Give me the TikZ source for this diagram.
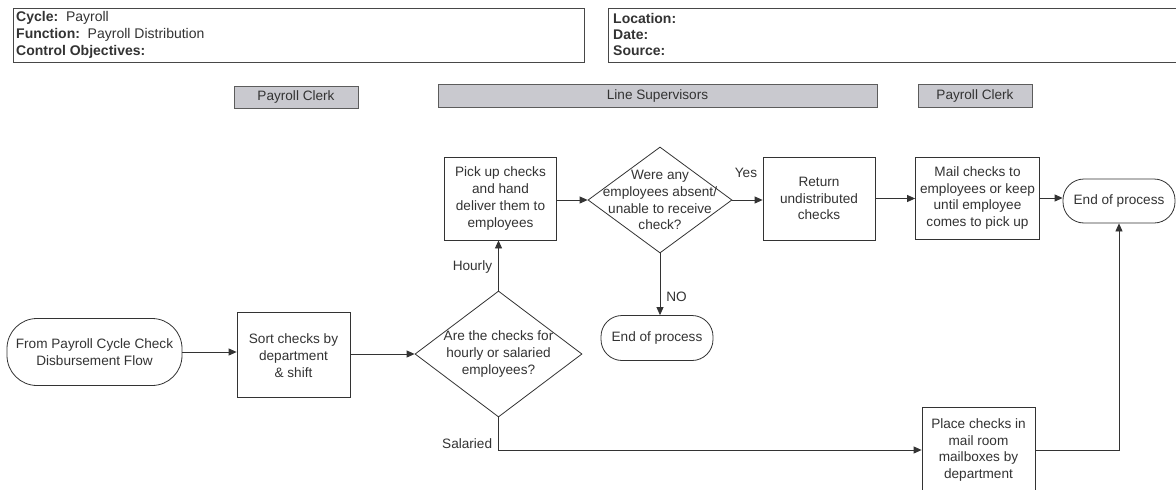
\documentclass[tikz,border=0pt]{standalone}
\usepackage{fontspec}
\setmainfont{Liberation Sans}
\usetikzlibrary{shapes.geometric,arrows.meta}
\definecolor{ink}{HTML}{333333}
\definecolor{lane}{HTML}{C9C9CF}
\tikzset{
  every node/.style={text=ink},
  txt/.style={font=\fontsize{13.6}{16.8}\selectfont, align=center, inner sep=0pt},
  box/.style={draw=ink, line width=0.8pt, rectangle, inner sep=0pt},
  term/.style={draw=ink, line width=0.8pt, rectangle, rounded corners=21pt, inner sep=0pt},
  dia/.style={draw=ink, line width=0.8pt, diamond, inner sep=0pt},
  lanebox/.style={draw=ink!80, line width=0.9pt, fill=lane, inner sep=0pt, font=\fontsize{13.6}{15}\selectfont},
  hdr/.style={draw=ink!90, line width=0.9pt, inner sep=0pt},
  arr/.style={draw=ink, line width=0.8pt, -{Triangle[length=8pt,width=7pt]}},
  lbl/.style={font=\fontsize{13.6}{15}\selectfont, inner sep=0pt},
  hlbl/.style={font=\fontsize{14}{15}\selectfont, inner sep=0pt, anchor=west},
}
\begin{document}
\begin{tikzpicture}[x=1pt,y=-1pt]
\clip (0,0) rectangle (1176,490);
\fill[white] (0,0) rectangle (1176,490);
% header boxes
\node[hdr, minimum width=571pt, minimum height=54pt] (h1) at (298.5,35) {};
\node[hdr, minimum width=580pt, minimum height=54pt] (h2) at (898,35) {};
\node[hlbl] (h1a) at (16,18) {\textbf{Cycle:}\ \ Payroll};
\node[hlbl] (h1b) at (16,35) {\textbf{Function:}\ \ Payroll Distribution};
\node[hlbl] (h1c) at (16,52) {\textbf{Control Objectives:}};
\node[hlbl] (h2a) at (613,18) {\textbf{Location:}};
\node[hlbl] (h2b) at (613,35) {\textbf{Date:}};
\node[hlbl] (h2c) at (613,51) {\textbf{Source:}};
% lane headers
\node[lanebox, minimum width=124pt, minimum height=22pt] (l1) at (296,97) {Payroll Clerk};
\node[lanebox, minimum width=439pt, minimum height=23pt] (l2) at (657.5,96) {Line Supervisors};
\node[lanebox, minimum width=114pt, minimum height=23pt] (l3) at (975,95.5) {Payroll Clerk};
% nodes
\node[term, minimum width=175pt, minimum height=67pt, rounded corners=30pt] (start) at (94.5,352) {};
\node[txt] at (start) {From Payroll Cycle Check\\Disbursement Flow};
\node[box, minimum width=113pt, minimum height=85pt] (sort) at (293.5,354.5) {};
\node[txt] at ([yshift=-1pt]sort.center) {Sort checks by\\department\\\& shift};
\node[dia, minimum width=167pt, minimum height=126pt] (d1) at (498.5,354) {};
\node[txt] at (d1) {Are the checks for\\hourly or salaried\\employees?};
\node[box, minimum width=112pt, minimum height=83pt] (pick) at (500.5,198.5) {};
\node[txt] at (pick) {Pick up checks\\and hand\\deliver them to\\employees};
\node[dia, minimum width=144pt, minimum height=106pt] (d2) at (660,200) {};
\node[txt] at (d2) {Were any\\employees absent/\\unable to receive\\check?};
\node[term, minimum width=112pt, minimum height=45pt] (end1) at (657,338) {};
\node[txt] at (end1) {End of process};
\node[box, minimum width=112pt, minimum height=83pt] (ret) at (819,198.5) {};
\node[txt] at (ret) {Return\\undistributed\\checks};
\node[box, minimum width=124pt, minimum height=82pt] (mail) at (977.5,198) {};
\node[txt] at (mail) {Mail checks to\\employees or keep\\until employee\\comes to pick up};
\node[term, minimum width=112pt, minimum height=44pt] (end2) at (1119,201) {};
\node[txt] at (end2) {End of process};
\node[box, minimum width=113pt, minimum height=85pt] (place) at (978.5,450) {};
\node[txt] at (place) {Place checks in\\mail room\\mailboxes by\\department};
% connectors
\draw[arr] (start.east) -- (start.east -| sort.west);
\draw[arr] (sort.east |- d1.west) -- (d1.west);
\draw[arr] (d1.north) -- (d1.north |- pick.south) node[lbl, pos=0.48, left=6pt] (hourly) {Hourly};
\draw[arr] (pick.east |- d2.west) -- (d2.west);
\draw[arr] (d2.east) -- (ret.west |- d2.east) node[lbl, pos=0.45, above=22pt] (yes) {Yes};
\draw[arr] (d2.south) -- (d2.south |- end1.north) node[lbl, pos=0.7, right=6pt] (no) {NO};
\draw[arr] (ret.east) -- (mail.west |- ret.east);
\draw[arr] (mail.east) -- (end2.west |- mail.east);
\draw[arr] (d1.south) |- (place.west) node[lbl, pos=0.4, left=6pt] (sal) {Salaried};
\draw[arr] (place.east) -| (end2.south);
\end{tikzpicture}
\end{document}
